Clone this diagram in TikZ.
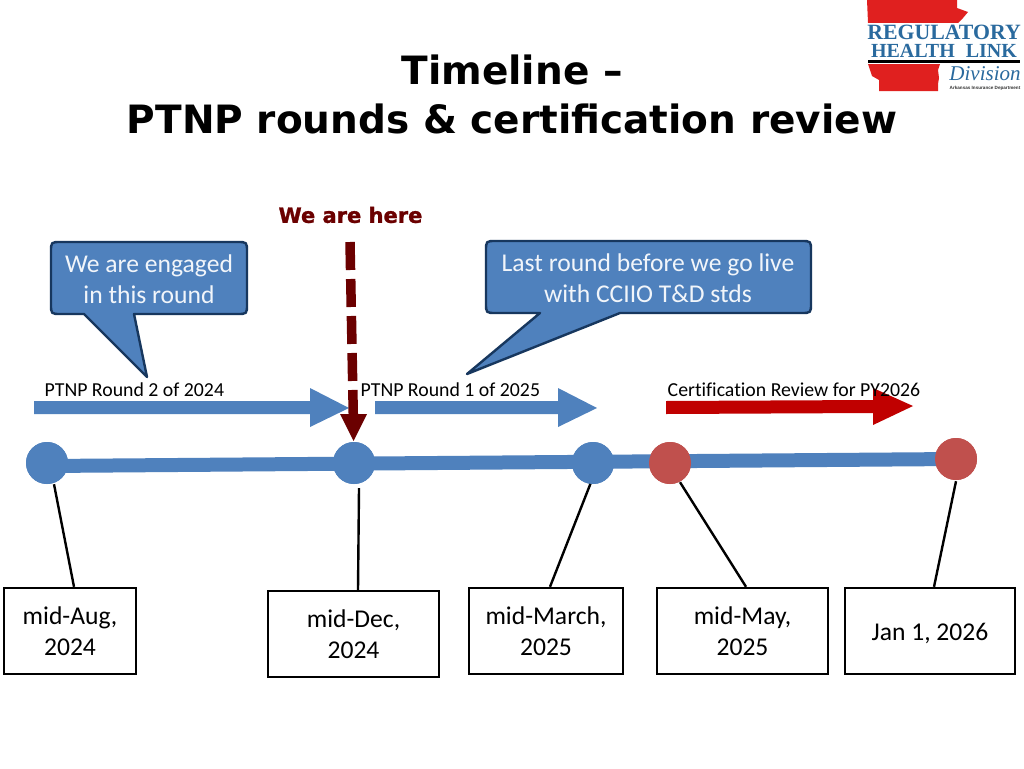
\documentclass[tikz,border=0pt]{standalone}
\usepackage{fontspec}
\setmainfont[Ligatures=NoCommon]{Carlito}
\newfontfamily\titlefont{DejaVu Sans}
\newfontfamily\heavyfont[FakeBold=1.3]{DejaVu Sans Bold}
\newfontfamily\logofont{Liberation Serif}
\newfontfamily\logosans{Liberation Sans}
\definecolor{tlblue}{HTML}{4F81BD}
\definecolor{tlred}{HTML}{C0504D}
\definecolor{cdark}{HTML}{17375E}
\definecolor{arrred}{HTML}{C00000}
\definecolor{hered}{HTML}{6B0000}
\definecolor{logoblue}{HTML}{2A6A9E}
\definecolor{logored}{HTML}{E0201F}
\tikzset{
  x=1pt,y=-1pt,
  dot/.style={circle,minimum size=42pt,inner sep=0pt,fill=#1},
  datebox/.style={draw=black,line width=2.4pt,fill=white,align=center,inner sep=0pt,font=\fontsize{25.6}{31}\selectfont},
  callout/.style={fill=tlblue,draw=cdark,line width=2.4pt,line join=round},
  calltext/.style={text=white!92!tlblue,align=center,font=\fontsize{25.6}{31}\selectfont},
  roundlabel/.style={anchor=west,inner sep=0pt,font=\fontsize{19.8}{24}\selectfont},
  link/.style={draw=black,line width=2.4pt},
  titletext/.style={font=\titlefont\bfseries\fontsize{39}{49}\selectfont,align=center,text=black},
}
\begin{document}
\begin{tikzpicture}
\useasboundingbox (0,0) rectangle (1024,768);
\fill[white] (0,0) rectangle (1024,768);

% title
\node[titletext] (title) at (512,94) {Timeline –\\PTNP rounds \& certification review};

% logo
\fill[logored] (867,0) -- (957,0) -- (957,8) -- (968,12) -- (963,18) -- (958,23) -- (868,23) -- cycle;
\fill[logored] (868,64) -- (940,64) -- (938,70) -- (939,78) -- (938,84) -- (938,91) -- (879,91) -- (879,80) -- (872,76) -- cycle;
\node[inner sep=0pt,text=logoblue] (logoa) at (944,32) {\logofont\bfseries\fontsize{21.8}{20}\selectfont REGULATORY};
\node[inner sep=0pt,text=logoblue] (logob) at (944,51) {\logofont\bfseries\fontsize{20}{20}\selectfont HEALTH\hspace{11pt}LINK};
\fill[black] (868,60) rectangle (1020,63);
\node[inner sep=0pt,text=logoblue] (logoc) at (985,74) {\logofont\itshape\fontsize{21}{21}\selectfont Division};
\node[inner sep=0pt,text=black!80] (logod) at (985,88.5) {\logosans\bfseries\fontsize{4.6}{6}\selectfont Arkansas Insurance Department};

% callouts
\draw[callout] (61,242) -- (237,242) .. controls (247,242) .. (247,252) -- (247,304) .. controls (247,314) .. (237,314) -- (134,314) -- (147,377) -- (84,314) -- (61,314) .. controls (51,314) .. (51,304) -- (51,252) .. controls (51,242) .. (61,242) -- cycle;
\node[calltext] (calla) at (149,279) {We are engaged\\in this round};
\draw[callout] (496,241) -- (801,241) .. controls (811,241) .. (811,251) -- (811,303) .. controls (811,313) .. (801,313) -- (620,313) -- (467,374) -- (540,313) -- (496,313) .. controls (486,313) .. (486,303) -- (486,251) .. controls (486,241) .. (496,241) -- cycle;
\node[calltext] (callb) at (648,278) {Last round before we go live\\with CCIIO T\&D stds};

% timeline markers
\node[dot=tlblue] (c1) at (47,463) {};
\node[dot=tlblue] (c2) at (354,463) {};
\node[dot=tlblue] (c3) at (593,463) {};
\node[dot=tlred] (c4) at (670,463) {};
\node[dot=tlred] (c5) at (956,459) {};

% date boxes
\node[datebox,minimum width=132pt,minimum height=86pt] (b1) at (70,631) {mid-Aug,\\2024};
\node[datebox,minimum width=171pt,minimum height=86pt] (b2) at (353.5,634) {mid-Dec,\\2024};
\node[datebox,minimum width=154pt,minimum height=86pt] (b3) at (546,631) {mid-March,\\2025};
\node[datebox,minimum width=171pt,minimum height=86pt] (b4) at (742.5,631) {mid-May,\\2025};
\node[datebox,minimum width=170pt,minimum height=86pt] (b5) at (930,631) {\raisebox{0pt}[20pt][2pt]{Jan 1, 2026}};

% connectors
\draw[link] ([shift={(7,0)}]c1.south) -- ([xshift=4pt]b1.north);
\draw[link] ([shift={(5,4)}]c2.south) -- ([xshift=4.5pt]b2.north);
\draw[link] ([shift={(0,-7)}]c3.south) -- ([xshift=4pt]b3.north);
\draw[link] ([shift={(10,-2)}]c4.south) -- ([xshift=3.5pt]b4.north);
\draw[link] ([shift={(0,1)}]c5.south) -- ([xshift=4pt]b5.north);

% timeline bar, with the markers repainted over it
\draw[tlblue,line width=14pt] (c1.center) ++(0,3) -- (c5.center);
\node[dot=tlblue] at (c1) {};
\node[dot=tlblue] at (c2) {};
\node[dot=tlblue] at (c3) {};
\node[dot=tlred] at (c4) {};
\node[dot=tlred] at (c5) {};

% period arrows
\fill[tlblue] (34,401) -- (310,401) -- (310,388) -- (349,408) -- (310,427) -- (310,414) -- (34,414) -- cycle;
\fill[tlblue] (375,401) -- (558,401) -- (558,388) -- (597,408) -- (558,427) -- (558,414) -- (375,414) -- cycle;
\fill[arrred] (666,401) -- (873,400) -- (873,388) -- (913,406) -- (873,425) -- (873,413) -- (666,414) -- cycle;

% we are here
\node[inner sep=0pt,text=hered] (here) at (350.5,215) {\heavyfont\fontsize{21}{24}\selectfont We are here};
\coordinate (herea) at (350,242);
\coordinate (hereb) at (353.3,416);
\coordinate (heretip) at (353.5,441);
\draw[hered,line width=9.5pt,dash pattern=on 28pt off 9pt] (herea) -- (hereb);
\fill[hered] (340,414) -- (367,414) -- (heretip) -- cycle;

% labels
\node[roundlabel] (la) at (44.5,389.5) {PTNP Round 2 of 2024};
\node[roundlabel] (lb) at (360.5,389.5) {PTNP Round 1 of 2025};
\node[roundlabel] (lc) at (667.5,389.5) {Certification Review for PY2026};
\end{tikzpicture}
\end{document}
